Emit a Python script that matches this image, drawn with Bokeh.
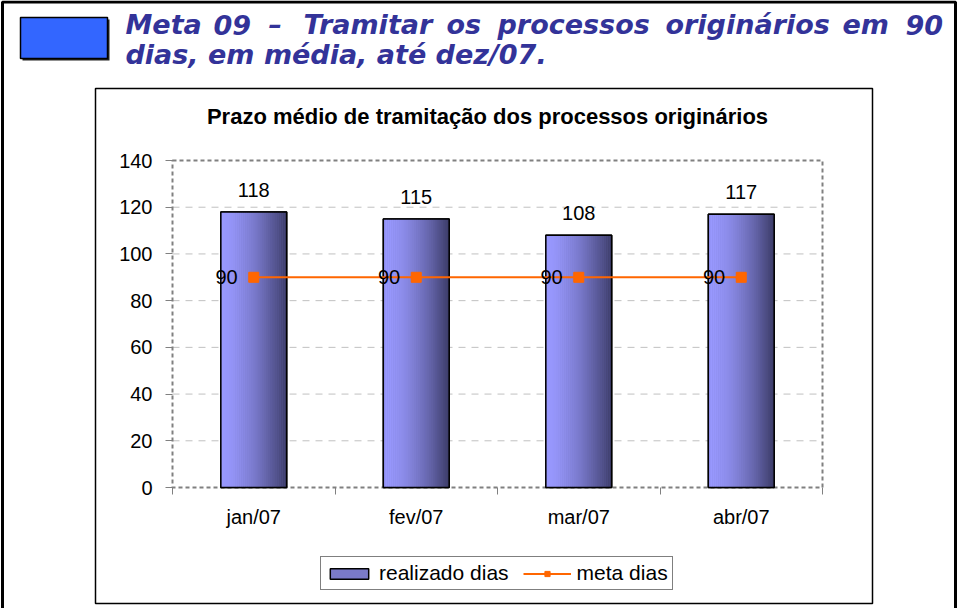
from bokeh.plotting import figure
from bokeh.models import (Range1d, FixedTicker, LabelSet, ColumnDataSource, Legend, LegendItem,
                          LinearAxis)
from bokeh.core.properties import value
from bokeh.embed import file_html
from bokeh.resources import INLINE

# ---------------- data ----------------
months = ["jan/07", "fev/07", "mar/07", "abr/07"]
realizado = [118, 115, 108, 117]
meta = [90, 90, 90, 90]
y_ticks = [0, 20, 40, 60, 80, 100, 120, 140]
header_line1 = ["Meta", "09", "–", "Tramitar", "os", "processos", "originários", "em", "90"]
header_line2 = "dias, em média, até dez/07."
chart_title = "Prazo médio de tramitação dos processos originários"
legend_labels = ["realizado dias", "meta dias"]

# ---------------- page geometry (pixels) ----------------
AR = "Liberation Sans"
W, H = 958, 608
FRAME_L, FRAME_R, FRAME_T, FRAME_B = 172, 822, 160, 487   # plot area of the bar chart
YMAX = 140
NCAT = len(months)

p = figure(width=W, height=H, x_range=Range1d(0, W), y_range=Range1d(H, 0),
           output_backend="svg", toolbar_location=None, min_border=0,
           x_axis_location=None, y_axis_location=None)
p.grid.visible = False
p.outline_line_color = None
p.background_fill_color = "white"
p.border_fill_color = "white"

# chart ranges mapped onto the plot-area pixels
ux = NCAT / (FRAME_R - FRAME_L)
uy = YMAX / (FRAME_B - FRAME_T)
p.extra_x_ranges = {"cx": Range1d(-FRAME_L * ux, (W - FRAME_L) * ux)}
p.extra_y_ranges = {"cy": Range1d(-(H - FRAME_B) * uy, FRAME_B * uy)}
C = dict(x_range_name="cx", y_range_name="cy")

# ---------------- page decorations ----------------
p.line([2, 2, 955, 955], [H + 5, 1.5, 1.5, H + 5], line_color="black", line_width=3)
p.quad(left=[95], right=[872], top=[88], bottom=[603], fill_color=None,
       line_color="black", line_width=1.5)
p.quad(left=[22], right=[109], top=[19], bottom=[60], fill_color="#222222", line_color=None)
p.quad(left=[20], right=[107], top=[17], bottom=[58], fill_color="#3366ff",
       line_color="black", line_width=1.5)

word_x = [125, 213, 268, 303, 446, 497, 665, 842, 905]
p.text(x=word_x, y=[24] * len(word_x), text=header_line1,
       text_font=value("DejaVu Sans"), text_font_style="bold italic",
       text_font_size="27px", text_color="#333399", text_baseline="alphabetic")
p.text(x=[125], y=[54], text=[header_line2],
       text_font=value("DejaVu Sans"), text_font_style="bold italic",
       text_font_size="27px", text_color="#333399", text_baseline="alphabetic")

p.text(x=[487], y=[116], text=[chart_title], text_font=value(AR), text_font_style="bold",
       text_font_size="22px", text_color="black", text_align="center",
       text_baseline="alphabetic")

# ---------------- plot area: grid + border ----------------
grid_vals = y_ticks[1:-1]
p.segment(x0=[0] * len(grid_vals), x1=[NCAT] * len(grid_vals), y0=grid_vals, y1=grid_vals,
          line_color="#c0c0c0", line_width=1, line_dash="7 6", **C)
p.quad(left=[0], right=[NCAT], bottom=[0], top=[YMAX], fill_color=None,
       line_color="#808080", line_width=2, line_dash="4 3", **C)

# ---------------- bars with horizontal gradient ----------------
xs = [i + 0.5 for i in range(NCAT)]
BW = 0.405
N = 32
light = (153, 153, 255)
dark = (60, 60, 104)
slice_x, slice_top, slice_col = [], [], []
for x, v in zip(xs, realizado):
    for k in range(N):
        t = (k + 0.5) / N
        s = t ** 1.6
        c = tuple(int(round(l + (d - l) * s)) for l, d in zip(light, dark))
        slice_x.append(x - BW / 2 + BW * t)
        slice_top.append(v)
        slice_col.append("#%02x%02x%02x" % c)

base = p.vbar(x=xs, top=realizado, width=BW, fill_color="#7a7ac8",
              line_color="black", line_width=1.5, **C)
p.vbar(x=slice_x, top=slice_top, width=BW / N * 1.15, fill_color=slice_col,
       line_color=None, **C)
p.vbar(x=xs, top=realizado, width=BW, fill_color=None, line_color="black",
       line_width=1.5, **C)

# ---------------- meta line ----------------
mline = p.line(xs, meta, line_color="#ff6600", line_width=2, **C)
mpts = p.scatter(xs, meta, marker="square", size=10, fill_color="#ff6600",
                 line_color="#ff6600", **C)

# ---------------- data labels ----------------
src_r = ColumnDataSource(dict(x=xs, y=realizado, t=[str(v) for v in realizado]))
p.add_layout(LabelSet(x="x", y="y", text="t", source=src_r, y_offset=15,
                      text_align="center", text_baseline="alphabetic",
                      text_font=value(AR), text_font_size="20px", text_color="black", **C))
src_m = ColumnDataSource(dict(x=xs, y=meta, t=[str(v) for v in meta]))
p.add_layout(LabelSet(x="x", y="y", text="t", source=src_m, x_offset=-16,
                      text_align="right", text_baseline="middle",
                      text_font=value(AR), text_font_size="20px", text_color="black", **C))

# ---------------- axes ----------------
yax = LinearAxis(fixed_location=0, ticker=FixedTicker(ticks=y_ticks), bounds=(0, YMAX), **C)
yax.axis_line_color = None
yax.major_tick_out = 7
yax.major_tick_in = 0
yax.major_tick_line_color = "#808080"
yax.minor_tick_line_color = None
yax.major_label_standoff = 13
yax.major_label_text_font = AR
yax.major_label_text_font_size = "20px"
yax.major_label_text_color = "black"
p.add_layout(yax, "left")

xax = LinearAxis(fixed_location=0,
                 ticker=FixedTicker(ticks=xs, minor_ticks=list(range(NCAT + 1))),
                 bounds=(0, NCAT), **C)
xax.major_label_overrides = {x: m for x, m in zip(xs, months)}
xax.axis_line_color = None
xax.major_tick_line_color = None
xax.major_tick_out = 0
xax.major_tick_in = 0
xax.minor_tick_out = 7
xax.minor_tick_in = 0
xax.minor_tick_line_color = "#808080"
xax.major_label_standoff = 11
xax.major_label_text_font = AR
xax.major_label_text_font_size = "20px"
xax.major_label_text_color = "black"
p.add_layout(xax, "below")

# ---------------- legend ----------------
legend = Legend(items=[LegendItem(label=legend_labels[0], renderers=[base]),
                       LegendItem(label=legend_labels[1], renderers=[mline, mpts])],
                location=(320, H - 590), orientation="horizontal",
                glyph_width=48, glyph_height=13, label_standoff=6, spacing=14,
                padding=4, margin=0, border_line_color="black", border_line_width=1,
                label_text_font=AR, label_text_font_size="21px", label_text_color="black",
                background_fill_color="white", background_fill_alpha=1)
p.add_layout(legend)

open("out.html", "w").write(file_html(p, INLINE))
